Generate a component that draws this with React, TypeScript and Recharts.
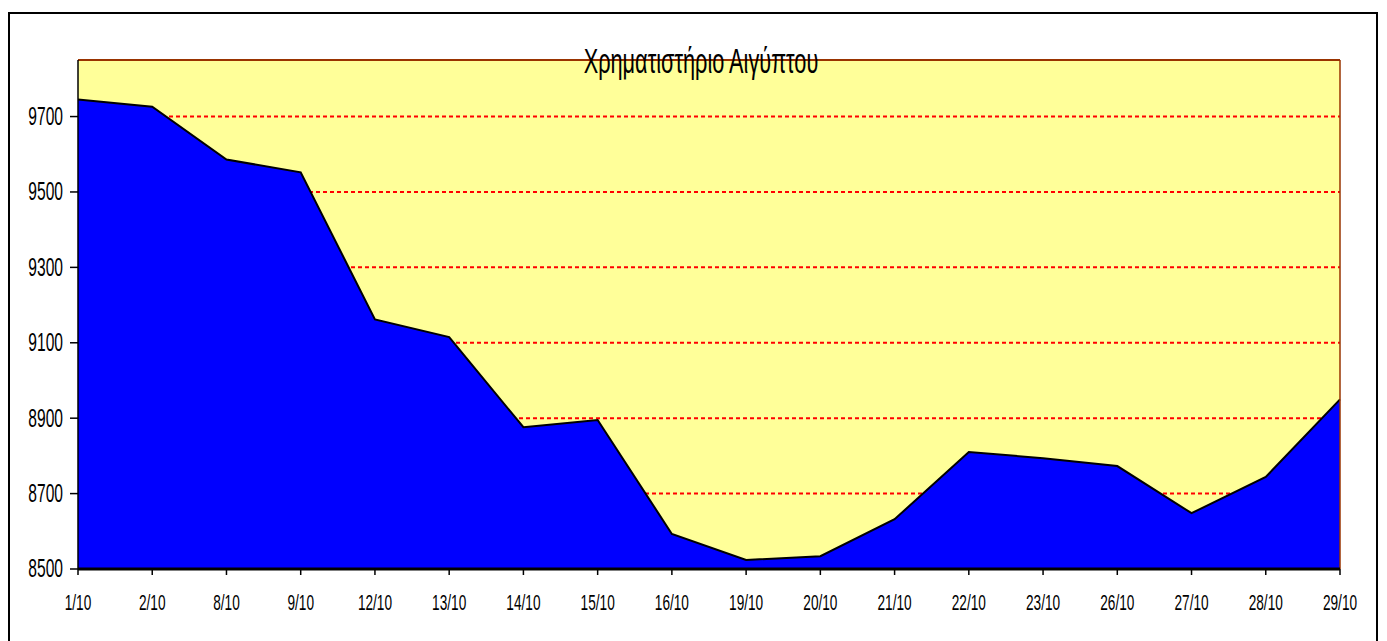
import React from 'react'
import {
  AreaChart,
  Area,
  XAxis,
  YAxis,
  CartesianGrid,
  ReferenceLine,
} from 'recharts'

const dates = ['1/10', '2/10', '8/10', '9/10', '12/10', '13/10', '14/10', '15/10', '16/10', '19/10', '20/10', '21/10', '22/10', '23/10', '26/10', '27/10', '28/10', '29/10']
const values = [9745, 9726, 9586, 9552, 9162, 9115, 8876, 8895, 8593, 8524, 8534, 8632, 8810, 8794, 8773, 8648, 8744, 8950]
const yTicks = [8500, 8700, 8900, 9100, 9300, 9500, 9700]
const yDomain = [8500, 9850]
const title = 'Χρηματιστήριο Αιγύπτου'

const data = dates.map((d, i) => ({ date: d, value: values[i] }))

const FONT = '"Liberation Sans", Arial, sans-serif'

function YTick({ x, y, payload }: any) {
  return (
    <text
      transform={`translate(${x},${y}) scale(0.6,1)`}
      textAnchor="end"
      dominantBaseline="central"
      fontFamily={FONT}
      fontSize={26}
      fill="#000"
    >
      {payload.value}
    </text>
  )
}

function XTick({ x, y, payload }: any) {
  return (
    <text
      transform={`translate(${x},${y + 33}) scale(0.62,1)`}
      textAnchor="middle"
      fontFamily={FONT}
      fontSize={22}
      fill="#000"
    >
      {payload.value}
    </text>
  )
}

export default function App() {
  return (
    <div style={{
      position: 'relative',
      marginTop: 4,
      width: 1366,
      height: 627,
      border: '2px solid #000',
      borderBottom: 'none',
      background: '#fff',
    }}>
      <AreaChart
        width={1366}
        height={627}
        data={data}
        margin={{ top: 46, right: 36, left: 8, bottom: 32 }}
      >
        <CartesianGrid
          vertical={false}
          fill="#FFFF99"
          fillOpacity={1}
          stroke="#FF0000"
          strokeWidth={2}
          strokeDasharray="4 3"
        />
        <XAxis
          dataKey="date"
          interval={0}
          axisLine={{ stroke: '#000', strokeWidth: 3 }}
          tickLine={{ stroke: '#000', strokeWidth: 1.5 }}
          tickSize={6}
          tickMargin={2}
          height={40}
          tick={<XTick />}
        />
        <YAxis
          domain={yDomain}
          ticks={yTicks}
          allowDataOverflow
          width={60}
          axisLine={{ stroke: '#000', strokeWidth: 1.5 }}
          tickLine={{ stroke: '#000', strokeWidth: 1.5 }}
          tickSize={8}
          tickMargin={7}
          tick={<YTick />}
        />
        <Area
          type="linear"
          dataKey="value"
          baseValue={8500}
          fill="#0000FF"
          fillOpacity={1}
          stroke="#000"
          strokeWidth={2}
          dot={false}
          activeDot={false}
          isAnimationActive={false}
        />
        <ReferenceLine y={9850} stroke="#993300" strokeWidth={2} />
        <ReferenceLine x="29/10" stroke="#993300" strokeWidth={1.5} />
      </AreaChart>
      <span style={{
        position: 'absolute',
        left: 691,
        top: 29,
        fontFamily: FONT,
        fontSize: 35,
        lineHeight: '35px',
        whiteSpace: 'nowrap',
        color: '#000',
        transform: 'translateX(-50%) scaleX(0.62)',
        transformOrigin: 'center',
      }}>
        {title}
      </span>
    </div>
  )
}
